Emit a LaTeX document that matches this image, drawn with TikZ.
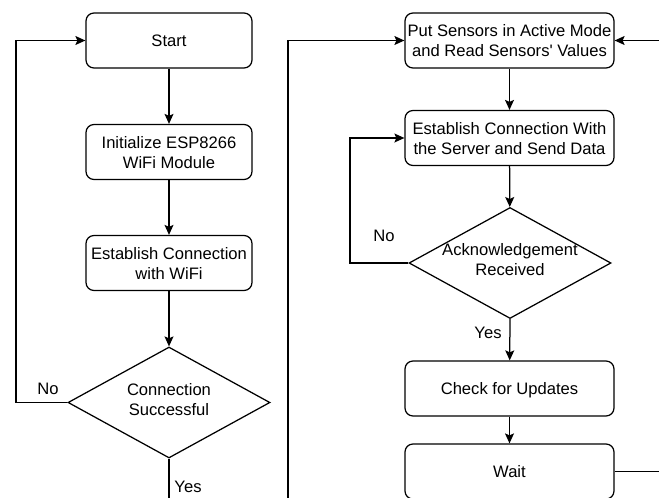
\documentclass[tikz,border=0pt]{standalone}
\usepackage{fontspec}
\setmainfont{Liberation Sans}[Ligatures=TeXOff]
\usetikzlibrary{arrows.meta,shapes.geometric}
\begin{document}
\begin{tikzpicture}[x=1pt,y=-1pt,
  font=\fontsize{16.6}{20}\selectfont,
  line width=1.25pt,
  procbox/.style={draw, rounded corners=8pt, inner sep=0pt, align=center, text depth=0pt},
  leftbox/.style={procbox, minimum width=166pt, minimum height=55pt},
  rightbox/.style={procbox, minimum width=209pt, minimum height=55pt},
  decision/.style={draw, shape=diamond, inner sep=0pt, minimum width=202pt, minimum height=111pt},
  flow/.style={-{Stealth[length=10pt,width=9pt,inset=2pt]}},
  lbl/.style={inner sep=0pt}]
\useasboundingbox (0,0) rectangle (659,498);
% left column
\node[leftbox] (start) at (169,40.5) {Start};
\node[leftbox] (init) at (169,152) {Initialize ESP8266\\WiFi Module};
\node[leftbox] (wifi) at (169,263) {Establish Connection\\with WiFi};
\node[decision] (d1) at (169,402.5) {};
\node[align=center, inner sep=0pt] (d1t) at (169,400) {Connection\\Successful};
\coordinate (c1) at (16,402.5);
\coordinate (c2) at (16,40.5);
\coordinate (yesend) at (169,500);
\node[lbl] (no1) at (48,389) {No};
\node[lbl] (yes1) at (188,487) {Yes};
% right column
\node[rightbox] (put) at (509.5,40.5) {Put Sensors in Active Mode\\and Read Sensors' Values};
\node[rightbox] (est) at (509.5,138) {Establish Connection With\\the Server and Send Data};
\node[decision] (d2) at (510,263) {};
\node[align=center, inner sep=0pt] (d2t) at (510,260) {Acknowledgement\\Received};
\node[rightbox] (check) at (509.5,388.5) {Check for Updates};
\node[rightbox] (wait) at (509.5,471.5) {Wait};
\coordinate (c3) at (350,263);
\coordinate (c4) at (350,138);
\coordinate (c5) at (288,500);
\coordinate (c6) at (288,40.5);
\coordinate (c7) at (662,471.5);
\coordinate (c8) at (662,40.5);
\node[lbl] (no2) at (384,236) {No};
\node[lbl] (yes2) at (488,333) {Yes};
% connectors
\draw[flow] (start) -- (init);
\draw[flow] (init) -- (wifi);
\draw[flow] (wifi) -- (d1);
\draw[flow] (d1.west) -- (c1) -- (c2) -- (start.west);
\draw (d1.south) -- (yesend);
\draw[flow] (c5) -- (c6) -- (put.west);
\draw[flow] (put) -- (est);
\draw[flow] (est) -- (d2);
\draw[flow] (d2.west) -- (c3) -- (c4) -- (est.west);
\draw[flow] (d2.south) -- (check);
\draw[flow] (check) -- (wait);
\draw (wait.east) -- (c7);
\draw[flow] (c8) -- (put.east);
\end{tikzpicture}
\end{document}
